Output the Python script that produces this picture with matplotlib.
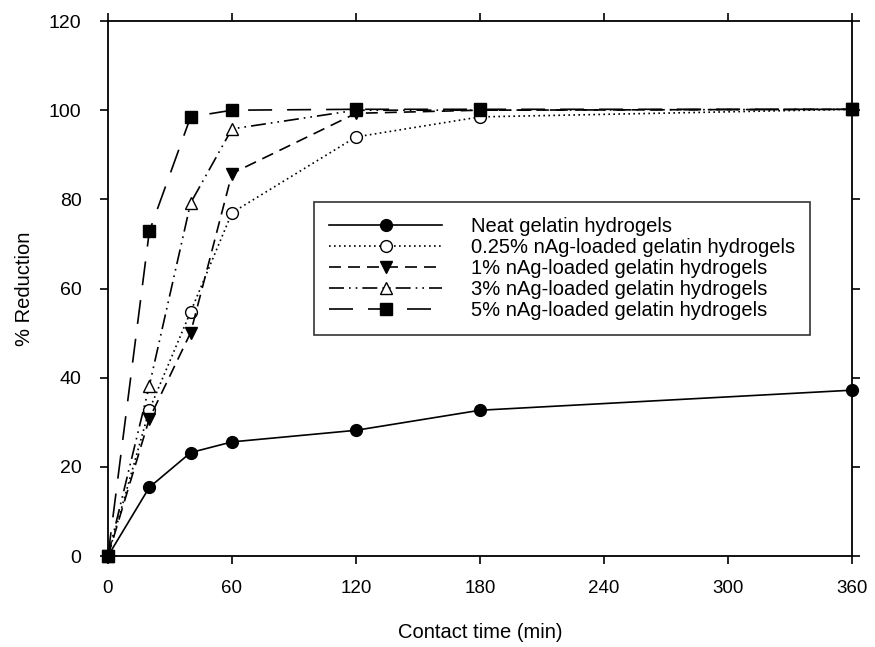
import matplotlib
matplotlib.use('Agg')
import matplotlib.pyplot as plt

plt.rcParams['font.family'] = ['Liberation Sans', 'DejaVu Sans']

# contact time (min)
time_min = [0, 20, 40, 60, 120, 180, 360]

# % reduction for each hydrogel
neat     = [0, 15.4, 23.2, 25.6, 28.2, 32.7, 37.2]
ag_025   = [0, 32.8, 54.8, 77.0, 94.0, 98.5, 100.2]
ag_1     = [0, 30.8, 50.1, 85.8, 99.3, 100.0, 100.2]
ag_3     = [0, 38.2, 79.2, 95.8, 100.0, 100.0, 100.2]
ag_5     = [0, 72.8, 98.5, 100.0, 100.2, 100.2, 100.2]

labels = [
    'Neat gelatin hydrogels',
    '0.25% nAg-loaded gelatin hydrogels',
    '1% nAg-loaded gelatin hydrogels',
    '3% nAg-loaded gelatin hydrogels',
    '5% nAg-loaded gelatin hydrogels',
]

x_ticks = [0, 60, 120, 180, 240, 300, 360]
y_ticks = [0, 20, 40, 60, 80, 100, 120]

fig = plt.figure(figsize=(8.75, 6.47), dpi=100)
ax = fig.add_axes([0.1234, 0.1406, 0.8503, 0.8269])

styles = [
    dict(ls='-', marker='o', mfc='black'),
    dict(ls=(0, (1, 2)), marker='o', mfc='white'),
    dict(ls=(0, (7.2, 4.2)), marker='v', mfc='black'),
    dict(ls=(0, (9, 3, 1, 3, 1, 3)), marker='^', mfc='white'),
    dict(ls=(0, (14.4, 9)), marker='s', mfc='black'),
]
series = [neat, ag_025, ag_1, ag_3, ag_5]

for ys, st, lab in zip(series, styles, labels):
    ax.plot(time_min, ys, color='black', lw=1.2, ms=8.5, mec='black',
            mew=1.0, label=lab, clip_on=False, **st)

ax.set_xlim(0, 360)
ax.set_ylim(0, 120)
ax.set_xticks(x_ticks)
ax.set_yticks(y_ticks)
ax.tick_params(direction='out', length=6, width=1.2,
               top=True, right=True)
ax.tick_params(axis='y', labelsize=14, pad=13)
ax.tick_params(axis='x', labelsize=13.5, pad=11)
for sp in ax.spines.values():
    sp.set_linewidth(1.3)

ax.set_xlabel('Contact time (min)', fontsize=14.5, labelpad=19)
ax.set_ylabel('% Reduction', fontsize=14.5, labelpad=11)

leg = ax.legend(loc='upper left', bbox_to_anchor=(0.277, 0.662),
                fontsize=14.5, handlelength=5.6, labelspacing=0.1,
                borderpad=0.75, handletextpad=1.45, frameon=True,
                fancybox=False, edgecolor='black', borderaxespad=0)
leg.get_frame().set_linewidth(1.2)

fig.savefig('out.png', dpi=100)
